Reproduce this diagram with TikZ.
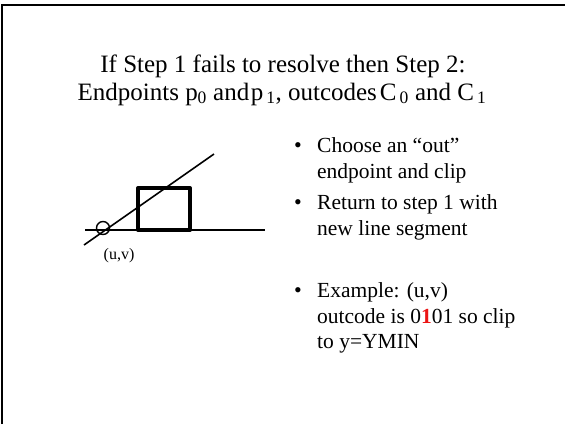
\documentclass[tikz,border=0pt]{standalone}
\usepackage{fontspec}
\setmainfont{Liberation Serif}
\usepackage{xcolor}
\usetikzlibrary{positioning}
\definecolor{codered}{RGB}{235,20,20}

\tikzset{
  titletext/.style={anchor=base, inner sep=0pt, font=\fontsize{25}{28}\selectfont},
  bullettext/.style={anchor=base west, inner sep=0pt, font=\fontsize{21.5}{26}\selectfont},
  bulletdot/.style={anchor=base, inner sep=0pt, font=\fontsize{22}{26}\selectfont},
}

\begin{document}
\begin{tikzpicture}[x=1pt, y=-1pt]
\useasboundingbox (0,0) rectangle (565,424);
% slide frame
\draw[line width=2pt] (2,424) -- (2,5) -- (565,5);

% title
\node[titletext] (title) at (283,72) {If Step 1 fails to resolve then Step 2:};
\node[titletext] (title2) at (282,100)
  {Endpoints p\textsubscript{0} and\hspace{1.5pt}p\hspace{3pt}\textsubscript{1}, outcodes\hspace{3pt}C\hspace{3pt}\textsubscript{0} and C\hspace{3pt}\textsubscript{1}};

% clipping sketch
\coordinate (hl) at (85,230);
\coordinate (hr) at (265,230);
\coordinate (dl) at (84,245);
\coordinate (dr) at (214,154);
\draw[line width=1.6pt] (hl) -- (hr);
\draw[line width=4pt, line join=round] (138,188) rectangle (190,230);
\draw[line width=1.6pt] (dl) -- (dr);
\node[draw, circle, line width=1.4pt, minimum size=13pt, inner sep=0pt] (uv) at (103,228) {};
\node[inner sep=0pt, font=\fontsize{16}{19}\selectfont, below=13pt of uv, xshift=16pt] (uvlabel) {(u,v)};

% bullets
\node[bulletdot] (b1) at (298,152) {\textbullet};
\node[bullettext] (choose) at (317,152) {Choose an “out”};
\node[bullettext] (choose2) at (317,178) {endpoint and clip};
\node[bulletdot] (b2) at (298,209) {\textbullet};
\node[bullettext] (ret) at (317,209) {Return to step 1 with};
\node[bullettext] (ret2) at (317,235) {new line segment};
\node[bulletdot] (b3) at (298,297) {\textbullet};
\node[bullettext] (ex) at (317,297) {Example: (u,v)};
\node[bullettext] (ex2) at (317,323) {outcode is 0\textcolor{codered}{\textbf{1}}01 so clip};
\node[bullettext] (ex3) at (317,348) {to y=YMIN};
\end{tikzpicture}
\end{document}
